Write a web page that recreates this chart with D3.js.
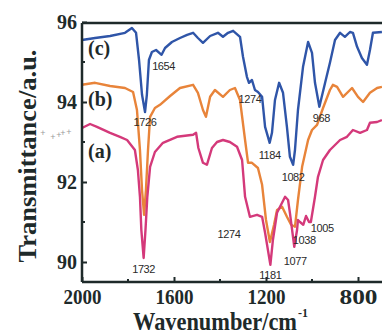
<!DOCTYPE html>
<html>
<head>
<meta charset="utf-8">
<script src="https://cdn.jsdelivr.net/npm/d3@7"></script>
<style>
  html, body { margin: 0; padding: 0; background: #fff; }
  svg { display: block; }
</style>
</head>
<body>
<div id="container"></div>
<script>
const width = 382, height = 335;
const margin = { top: 22, left: 82, bottom: 53 };

// FTIR spectra: wavenumber (cm-1) and transmittance (a.u.)
const wnC = [2000, 1943, 1878, 1813, 1783, 1765, 1752, 1739, 1726, 1718, 1709, 1696, 1678, 1654, 1639, 1609, 1574, 1543, 1517, 1496, 1474, 1443, 1409, 1387, 1365, 1343, 1313, 1300, 1283, 1274, 1261, 1248, 1235, 1217, 1204, 1184, 1174, 1161, 1143, 1126, 1109, 1096, 1082, 1074, 1061, 1039, 1017, 1000, 987, 968, 961, 943, 922, 900, 878, 857, 835, 822, 804, 783, 761, 748, 735, 696];
const tC  = [95.55, 95.60, 95.65, 95.73, 95.85, 95.73, 95.05, 94.18, 93.75, 94.18, 95.05, 95.25, 95.30, 95.18, 95.35, 95.50, 95.60, 95.68, 95.73, 95.60, 95.48, 95.65, 95.73, 95.63, 95.73, 95.78, 95.63, 95.13, 94.63, 94.48, 94.55, 94.30, 94.25, 94.13, 93.38, 92.98, 93.23, 94.05, 94.48, 94.23, 93.38, 92.63, 92.43, 92.80, 93.80, 94.88, 95.50, 95.23, 94.48, 93.88, 94.05, 94.48, 94.98, 95.55, 95.73, 95.63, 95.75, 95.73, 95.38, 95.10, 94.93, 95.30, 95.73, 95.75];

const wnB = [2000, 1943, 1878, 1813, 1778, 1761, 1748, 1739, 1730, 1722, 1713, 1704, 1683, 1661, 1617, 1574, 1517, 1496, 1474, 1461, 1443, 1422, 1387, 1357, 1335, 1313, 1291, 1278, 1261, 1235, 1217, 1200, 1183, 1165, 1152, 1130, 1109, 1091, 1074, 1061, 1043, 1017, 1000, 978, 952, 922, 909, 891, 865, 826, 800, 778, 748, 717, 696];
const tB  = [94.43, 94.48, 94.40, 94.35, 94.25, 93.80, 92.80, 91.80, 91.18, 91.80, 92.80, 93.63, 93.85, 93.93, 94.15, 94.35, 94.43, 94.23, 93.80, 93.63, 94.13, 94.30, 94.13, 94.30, 94.35, 94.05, 93.05, 92.48, 92.48, 92.35, 91.93, 91.05, 90.50, 90.93, 91.30, 91.38, 91.13, 90.93, 90.88, 91.55, 92.38, 93.05, 93.30, 93.43, 93.85, 94.30, 94.43, 94.38, 94.13, 94.35, 94.13, 94.00, 94.23, 94.35, 94.38];

const wnA = [2000, 1965, 1935, 1878, 1835, 1804, 1770, 1757, 1748, 1742, 1732, 1724, 1716, 1704, 1683, 1648, 1587, 1517, 1504, 1494, 1474, 1457, 1435, 1413, 1387, 1357, 1326, 1304, 1291, 1270, 1239, 1217, 1204, 1181, 1170, 1152, 1139, 1117, 1104, 1096, 1077, 1065, 1061, 1052, 1038, 1026, 1013, 1005, 987, 974, 952, 922, 878, 848, 822, 791, 761, 748, 717, 696];
const tA  = [93.35, 93.45, 93.38, 93.23, 93.13, 93.05, 92.80, 92.30, 91.63, 90.80, 90.10, 90.80, 91.63, 92.38, 92.75, 92.98, 93.13, 93.18, 93.23, 92.85, 92.48, 92.43, 92.85, 93.00, 93.05, 93.00, 92.88, 92.55, 91.63, 91.13, 91.18, 91.13, 90.73, 89.93, 90.55, 91.23, 91.38, 91.63, 91.55, 91.23, 90.38, 90.80, 91.05, 91.00, 90.93, 91.15, 91.00, 91.00, 91.63, 92.13, 92.55, 92.80, 93.05, 93.13, 93.30, 93.23, 93.30, 93.48, 93.50, 93.55];

const seriesNames = ["(a)", "(b)", "(c)"];
const seriesColors = ["#d4397a", "#e8843a", "#2f55a8"];

// peak annotations: [wavenumber, transmittance, label]
const peaksC = [[1654, 95.18, "1654"], [1726, 93.75, "1726"], [1274, 94.48, "1274"], [968, 93.88, "968"], [1184, 92.98, "1184"], [1082, 92.43, "1082"]];
const peaksA = [[1274, 91.13, "1274"], [1005, 91.0, "1005"], [1038, 90.93, "1038"], [1077, 90.38, "1077"], [1181, 89.93, "1181"], [1732, 90.10, "1732"]];

const xMajor = [2000, 1600, 1200, 800];
const xMinor = [1800, 1400, 1000];
const yMajor = [90, 92, 94, 96];
const yMinor = [91, 93, 95];

const svg = d3.select("#container").append("svg")
  .attr("width", width).attr("height", height);

const x = d3.scaleLinear().domain([2000, 600]).range([margin.left, margin.left + 1400 * 0.23]);
const y = d3.scaleLinear().domain([89.5, 96]).range([height - margin.bottom, margin.top]);

const ink = "#1e2a2a";
const serif = "'Liberation Serif', 'Times New Roman', serif";
const sans = "'Liberation Sans', Arial, sans-serif";

const line = d3.line().x(d => x(d[0])).y(d => y(d[1]));

const series = [
  wnA.map((w, i) => [w, tA[i]]),
  wnB.map((w, i) => [w, tB[i]]),
  wnC.map((w, i) => [w, tC[i]]),
];

// draw c, b, then a on top
[2, 1, 0].forEach(i => {
  svg.append("path")
    .datum(series[i])
    .attr("fill", "none")
    .attr("stroke", seriesColors[i])
    .attr("stroke-width", 2.4)
    .attr("stroke-linejoin", "round")
    .attr("d", line);
});

// frame: top line, left and bottom axes
svg.append("line")
  .attr("x1", x(2000)).attr("x2", width)
  .attr("y1", y(96) + 1).attr("y2", y(96) + 1)
  .attr("stroke", ink).attr("stroke-width", 2.5);

const xAxis = svg.append("g")
  .attr("transform", `translate(0,${y(89.5)})`)
  .call(d3.axisBottom(x).tickValues(xMajor).tickSize(-5).tickPadding(8).tickFormat(d3.format("d")));
xMinor.forEach(v => {
  xAxis.append("line").attr("x1", x(v)).attr("x2", x(v)).attr("y1", 0).attr("y2", -3)
    .attr("stroke", ink).attr("stroke-width", 2);
});

const yAxis = svg.append("g")
  .attr("transform", `translate(${x(2000)},0)`)
  .call(d3.axisLeft(y).tickValues(yMajor).tickSize(-5).tickPadding(5).tickFormat(d3.format("d")));
yMinor.forEach(v => {
  yAxis.append("line").attr("x1", 0).attr("x2", 3).attr("y1", y(v)).attr("y2", y(v))
    .attr("stroke", ink).attr("stroke-width", 2);
});

for (const ax of [xAxis, yAxis]) {
  ax.select(".domain").attr("stroke", ink).attr("stroke-width", 2.5);
  ax.selectAll(".tick line").attr("stroke", ink).attr("stroke-width", 2);
  ax.selectAll("text")
    .attr("fill", ink)
    .style("font-family", serif)
    .style("font-weight", "bold")
    .style("font-size", "20px");
}
xAxis.select(".domain").attr("d", `M${x(2000)},0H${width}`);
xAxis.selectAll("text").attr("textLength", 38).attr("lengthAdjust", "spacingAndGlyphs");
yAxis.select(".domain").attr("d", `M0,${y(89.5)}V${y(96) + 1}`);

// series labels
const labelY = [158, 106, 55];
seriesNames.forEach((n, i) => {
  svg.append("text")
    .attr("x", 88).attr("y", labelY[i])
    .attr("fill", ink)
    .style("font-family", serif).style("font-weight", "bold").style("font-size", "20px")
    .text(n);
});

// peak labels
const offC = { "1654": [2, 15], "1726": [0, 14], "1274": [1, 20], "968": [2, 15], "1184": [0, 16], "1082": [0, 16] };
const offA = { "1274": [-20, 21], "1005": [0, 10], "1038": [1, 19], "1077": [1, 18], "1181": [0, 14], "1732": [0, 15] };
function peakLabels(list, off) {
  list.forEach(([w, v, s]) => {
    const o = off[s];
    svg.append("text")
      .attr("x", x(w) + o[0]).attr("y", y(v) + o[1])
      .attr("text-anchor", s === "1005" ? "start" : "middle")
      .attr("fill", "#2a2a2a")
      .style("font-family", sans).style("font-size", "11px")
      .attr("letter-spacing", "-0.4")
      .text(s);
  });
}
peakLabels(peaksC, offC);
peakLabels(peaksA, offA);

// axis titles
svg.append("text")
  .attr("transform", "translate(36,156) rotate(-90)")
  .attr("text-anchor", "middle")
  .attr("fill", ink)
  .attr("textLength", 213).attr("lengthAdjust", "spacingAndGlyphs")
  .style("font-family", serif).style("font-weight", "bold").style("font-size", "25px")
  .text("Transmittance/a.u.");

const xTitle = svg.append("text")
  .attr("x", 133).attr("y", 330)
  .attr("fill", ink)
  .style("font-family", serif).style("font-weight", "bold").style("font-size", "25px");
xTitle.append("tspan")
  .attr("textLength", 164).attr("lengthAdjust", "spacingAndGlyphs")
  .text("Wavenumber/cm");
xTitle.append("tspan")
  .attr("dx", 1).attr("dy", -13)
  .style("font-size", "12px")
  .text("-1");

// faint scanning artefact crosses left of the axis
[[43, 136], [53, 140], [59, 138], [63, 136], [69, 135]].forEach(([px, py]) => {
  svg.append("text").attr("x", px).attr("y", py).attr("text-anchor", "middle")
    .attr("fill", "#9a9a9a").style("font-family", sans).style("font-size", "9px").text("+");
});
</script>
</body>
</html>
